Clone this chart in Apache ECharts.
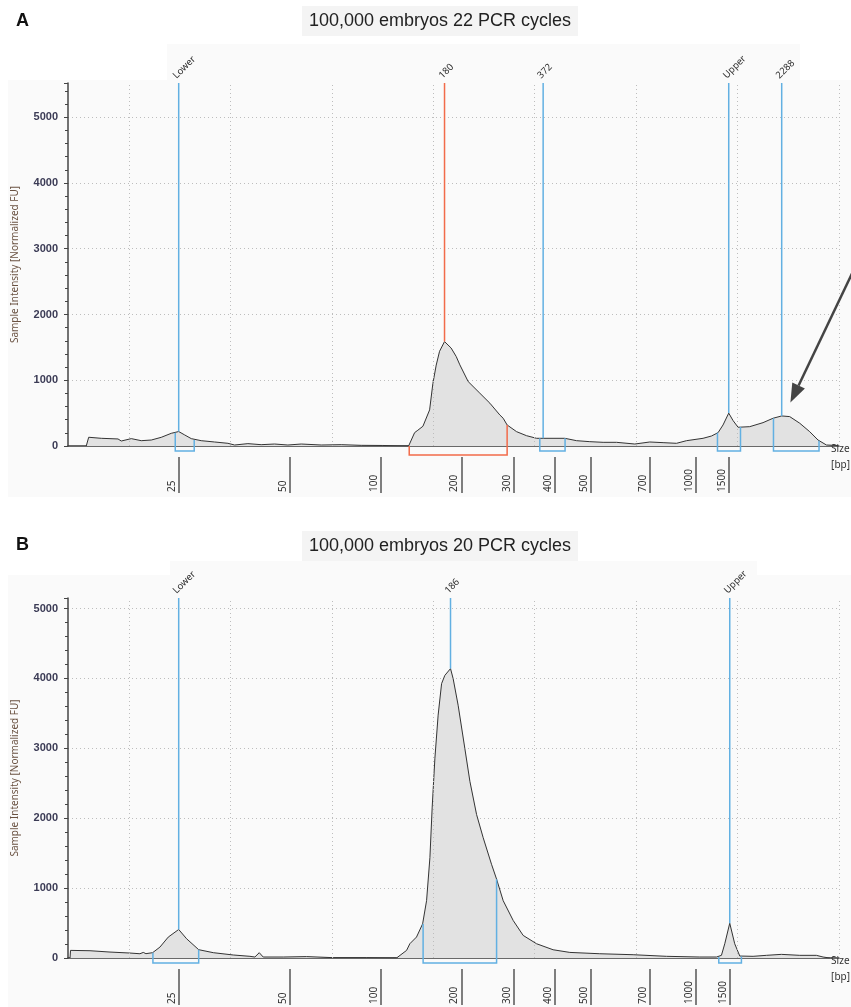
<!DOCTYPE html>
<html>
<head>
<meta charset="utf-8">
<script src="https://cdn.jsdelivr.net/npm/echarts@6/dist/echarts.min.js"></script>
<style>
html, body { margin: 0; padding: 0; background: #fff; }
#chart { width: 851px; height: 1007px; }
</style>
</head>
<body>
<div id="chart"></div>
<script>
// x = migration position (10 units per dotted grid line), y = intensity [FU]

// panel A : 22 PCR cycles
var traceXA = [1.80, 2.04, 3.28, 4.93, 5.25, 6.24, 7.22, 8.21, 9.19, 10.18, 10.91, 11.50, 12.15, 13.13, 14.45, 15.76, 16.42, 17.73, 19.04, 20.36,
  21.67, 22.99, 24.96, 26.93, 28.90, 31.03, 31.13, 33.57, 34.16, 34.48, 34.98, 35.64, 35.96, 36.29, 36.62, 37.11, 37.76, 38.26, 38.62, 39.44,
  40.59, 41.58, 42.56, 42.89, 43.28, 44.21, 45.19, 46.18, 46.83, 48.97, 50.12, 51.43, 52.74, 54.06, 55.86, 57.34, 58.65, 59.97, 60.96, 62.59,
  63.42, 64.07, 64.56, 65.12, 65.55, 66.04, 67.19, 68.50, 69.49, 70.34, 71.13, 72.12, 73.10, 73.92, 74.75, 75.89];
var traceYA = [0, 133, 117, 107, 76, 112, 81, 91, 132, 193, 220, 168, 112, 81, 61, 41, 15, 36, 20, 30,
  15, 30, 15, 20, 10, 8, 0, 0, 203, 240, 300, 549, 950, 1230, 1440, 1588, 1490, 1361, 1234, 980,
  803, 651, 472, 422, 320, 218, 157, 117, 117, 117, 81, 66, 56, 56, 30, 61, 51, 41, 81, 117,
  152, 203, 320, 500, 386, 285, 294, 355, 422, 457, 447, 346, 218, 91, 15, 8];

var markNamesA = ['Lower', '180', '372', 'Upper', '2288'];
var markXA = [10.91, 37.11, 46.83, 65.12, 70.34];
var markPeakA = [220, 1588, 117, 500, 457];
var bracketX1A = [10.57, 33.63, 46.50, 64.01, 69.53];
var bracketX2A = [12.44, 43.28, 48.99, 66.28, 74.02];
var bracketH1A = [203, 0, 117, 203, 422];
var bracketH2A = [91, 320, 117, 290, 80];
var selectedA = '180';

var tickLabels = ['25', '50', '100', '200', '300', '400', '500', '700', '1000', '1500'];
var tickPosA = [10.91, 21.87, 30.84, 38.79, 43.97, 47.98, 51.53, 57.34, 61.87, 65.15];

// arrow pointing at the 2288 bp bump: [tip x, tip y, tail x, tail y]
var arrowA = [71.2, 660, 78.0, 2860];

// panel B : 20 PCR cycles
var traceXB = [0.20, 0.25, 2.17, 4.14, 6.11, 7.09, 7.42, 7.68, 8.34, 9.06, 9.88, 10.91, 11.69, 12.88, 14.32, 16.29, 17.93, 18.42, 18.85, 19.24,
  21.21, 23.52, 26.14, 29.43, 32.38, 33.37, 33.69, 34.35, 34.95, 35.34, 35.67, 35.89, 36.16, 36.48, 36.82, 37.14, 37.70, 37.96, 38.45, 39.11,
  39.61, 40.27, 40.92, 41.74, 42.24, 42.89, 43.88, 44.86, 46.18, 47.81, 49.46, 52.41, 55.70, 58.98, 62.27, 63.91, 64.40, 64.73, 65.22, 65.71,
  66.21, 67.52, 68.83, 70.31, 72.12, 73.76, 74.42, 75.07];
var traceYB = [0, 109, 104, 85, 71, 61, 80, 62, 76, 156, 299, 408, 275, 119, 76, 43, 24, 14, 76, 14,
  14, 20, 5, 5, 0, 109, 204, 300, 488, 820, 1436, 2147, 2858, 3474, 3925, 4043, 4140, 3996, 3616, 3000,
  2527, 2052, 1721, 1341, 1128, 820, 536, 323, 204, 118, 80, 61, 47, 24, 14, 14, 38, 204, 498, 204,
  28, 24, 38, 52, 38, 38, 14, 0];

var markNamesB = ['Lower', '186', 'Upper'];
var markXB = [10.91, 37.70, 65.22];
var markPeakB = [408, 4140, 498];
var bracketX1B = [8.37, 35.00, 64.14];
var bracketX2B = [12.88, 42.24, 66.37];
var bracketH1B = [76, 488, 14];
var bracketH2B = [119, 1128, 20];
var selectedB = '';

var tickPosB = [10.91, 21.87, 30.84, 38.79, 43.97, 47.98, 51.53, 57.34, 61.87, 65.22];

var gridLinesX = [6, 16, 26, 36, 46, 56, 66, 76];
var yMaxA = 5520, yMaxB = 5150;

var BLUE = '#62b0e2', RED = '#f26b4a';
var FONT = 'Noto Sans';

var myChart = echarts.init(document.getElementById('chart'));

function pairs(xs, ys) {
  var d = [];
  for (var i = 0; i < xs.length; i++) d.push([xs[i], ys[i]]);
  return d;
}

function tickFormatter(pos) {
  return function (v) {
    for (var i = 0; i < pos.length; i++) {
      if (Math.abs(pos[i] - v) < 0.01) return tickLabels[i];
    }
    return '';
  };
}

function xAxes(g, pos) {
  return [
    { // baseline (data axis)
      type: 'value', gridIndex: g, min: 0, max: 76, position: 'top',
      axisLine: { show: true, onZero: true, lineStyle: { color: '#3a3a3a', width: 1.5 } },
      axisTick: { show: false }, axisLabel: { show: false }, splitLine: { show: false }
    },
    { // size ladder ticks under the baseline
      type: 'value', gridIndex: g, min: 0, max: 76, position: 'bottom', offset: 11,
      axisLine: { show: false, onZero: false },
      axisTick: { show: true, customValues: pos, length: 36, lineStyle: { color: '#555', width: 1.5 } },
      axisLabel: {
        customValues: pos, formatter: tickFormatter(pos), rotate: 90, margin: 35,
        align: 'left', verticalAlign: 'bottom', padding: [0, 0, 2, 0],
        fontSize: 10, fontFamily: FONT, color: '#333'
      },
      splitLine: { show: false },
      name: 'Size\n[bp]', nameLocation: 'end', nameGap: -8,
      nameTextStyle: { fontSize: 10, fontFamily: FONT, color: '#333', lineHeight: 16, align: 'left', padding: [28, 0, 0, 0] }
    }
  ];
}

function yAxis(g, max) {
  return {
    type: 'value', gridIndex: g, min: 0, max: max, interval: 1000,
    name: 'Sample Intensity [Normalized FU]', nameLocation: 'middle', nameGap: 48,
    nameTextStyle: { fontSize: 10, fontFamily: FONT, color: '#6a5242' },
    axisLine: { show: true, lineStyle: { color: '#444', width: 1.5 } },
    axisTick: { show: true, length: 4, lineStyle: { color: '#444' } },
    minorTick: { show: true, splitNumber: 5, length: 3, lineStyle: { color: '#444' } },
    axisLabel: {
      margin: 10, fontSize: 11, fontWeight: 'bold', fontFamily: 'Liberation Sans', color: '#3b3b55', showMaxLabel: false,
      formatter: function (v) { return String(v); }
    },
    splitLine: { show: true, showMinLine: false, showMaxLine: false, lineStyle: { color: '#bdbdbd', type: [1, 3] } }
  };
}

function markerSeries(g, names, xs, peaks, bx1, bx2, bh1, bh2, selected) {
  var rows = [];
  for (var i = 0; i < xs.length; i++) rows.push([xs[i], peaks[i], bx1[i], bx2[i], bh1[i], bh2[i]]);
  return {
    type: 'custom', xAxisIndex: g * 2, yAxisIndex: g, data: rows, z: 5, silent: true,
    encode: { x: 0, y: 1 },
    renderItem: function (params, api) {
      var cs = params.coordSys;
      var name = names[params.dataIndex];
      var color = name === selected ? RED : BLUE;
      var depth = name === selected ? 9 : 5;
      var p = api.coord([api.value(0), api.value(1)]);
      var base = api.coord([api.value(2), 0])[1];
      var l1 = api.coord([api.value(2), api.value(4)]);
      var l2 = api.coord([api.value(3), api.value(5)]);
      return {
        type: 'group',
        children: [
          { type: 'line', shape: { x1: p[0], y1: cs.y, x2: p[0], y2: p[1] }, style: { stroke: color, lineWidth: 1.5 } },
          { type: 'polyline', shape: { points: [l1, [l1[0], base + depth], [l2[0], base + depth], l2] },
            style: { stroke: color, fill: null, lineWidth: 1.5 } },
          { type: 'text', x: p[0] - 4, y: cs.y - 6, rotation: Math.PI / 4,
            style: { text: name, fill: '#2a2a2a', fontSize: 9.5, fontFamily: FONT, align: 'left', verticalAlign: 'middle' } }
        ]
      };
    }
  };
}

function arrowSeries(g, a) {
  return {
    type: 'custom', xAxisIndex: g * 2, yAxisIndex: g, data: [a], z: 6, silent: true,
    encode: { x: 0, y: 1 },
    renderItem: function (params, api) {
      var tip = api.coord([api.value(0), api.value(1)]);
      var tail = api.coord([api.value(2), api.value(3)]);
      var dx = tail[0] - tip[0], dy = tail[1] - tip[1];
      var len = Math.sqrt(dx * dx + dy * dy);
      var ux = dx / len, uy = dy / len;
      var hl = 19, hw = 7;
      var bx = tip[0] + ux * hl, by = tip[1] + uy * hl;
      return {
        type: 'group',
        children: [
          { type: 'line', shape: { x1: tail[0], y1: tail[1], x2: bx, y2: by }, style: { stroke: '#444', lineWidth: 2.5 } },
          { type: 'polygon', shape: { points: [tip, [bx - uy * hw, by + ux * hw], [bx + uy * hw, by - ux * hw]] }, style: { fill: '#444' } }
        ]
      };
    }
  };
}

function gridLineSeries(g) {
  return {
    type: 'line', xAxisIndex: g * 2, yAxisIndex: g, data: [], z: 1, silent: true,
    markLine: {
      silent: true, symbol: ['none', 'none'], label: { show: false }, animation: false,
      lineStyle: { color: '#bdbdbd', type: [1, 3], width: 1 },
      data: gridLinesX.map(function (v) { return { xAxis: v }; })
    }
  };
}

function traceSeries(g, xs, ys) {
  return {
    type: 'line', xAxisIndex: g * 2, yAxisIndex: g, data: pairs(xs, ys), z: 2,
    showSymbol: false, symbol: 'none', silent: true,
    lineStyle: { color: '#333', width: 1 },
    areaStyle: { color: '#e2e2e2', opacity: 1 }
  };
}

function titleText(text, top) {
  return {
    text: text, left: 433, top: top, textAlign: 'center',
    backgroundColor: '#f4f4f4', padding: [6, 7],
    textStyle: { fontSize: 18, fontWeight: 'normal', fontFamily: 'Liberation Sans', color: '#222' }
  };
}

var option = {
  animation: false,
  backgroundColor: '#fff',
  graphic: [
    { type: 'rect', shape: { x: 8, y: 80, width: 843, height: 417 }, style: { fill: '#fafafa' }, z: -10 },
    { type: 'rect', shape: { x: 167, y: 44, width: 633, height: 36 }, style: { fill: '#fafafa' }, z: -10 },
    { type: 'rect', shape: { x: 8, y: 575, width: 843, height: 432 }, style: { fill: '#fafafa' }, z: -10 },
    { type: 'rect', shape: { x: 170, y: 561, width: 587, height: 14 }, style: { fill: '#fafafa' }, z: -10 }
  ],
  title: [
    { text: 'A', left: 11, top: 7, textStyle: { fontSize: 18, fontWeight: 'bold', fontFamily: 'Liberation Sans', color: '#111' } },
    titleText('100,000 embryos 22 PCR cycles', 6),
    { text: 'B', left: 11, top: 531, textStyle: { fontSize: 18, fontWeight: 'bold', fontFamily: 'Liberation Sans', color: '#111' } },
    titleText('100,000 embryos 20 PCR cycles', 531)
  ],
  grid: [
    { left: 68, top: 83, width: 772, height: 363 },
    { left: 68, top: 598, width: 772, height: 363 }
  ],
  xAxis: xAxes(0, tickPosA).concat(xAxes(1, tickPosB)),
  yAxis: [yAxis(0, yMaxA), yAxis(1, yMaxB)],
  series: [
    gridLineSeries(0),
    traceSeries(0, traceXA, traceYA),
    markerSeries(0, markNamesA, markXA, markPeakA, bracketX1A, bracketX2A, bracketH1A, bracketH2A, selectedA),
    arrowSeries(0, arrowA),
    gridLineSeries(1),
    traceSeries(1, traceXB, traceYB),
    markerSeries(1, markNamesB, markXB, markPeakB, bracketX1B, bracketX2B, bracketH1B, bracketH2B, selectedB)
  ]
};

myChart.setOption(option);
</script>
</body>
</html>
